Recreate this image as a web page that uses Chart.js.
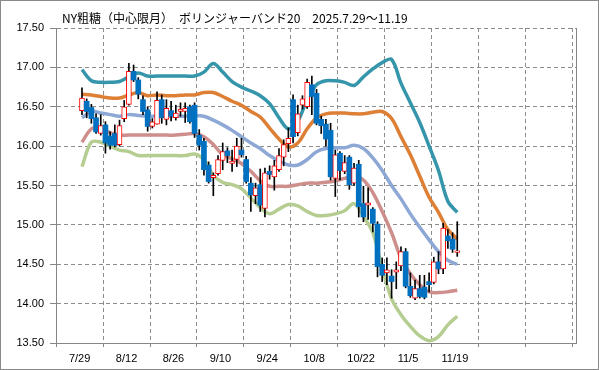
<!DOCTYPE html>
<html><head><meta charset="utf-8">
<script src="https://cdn.jsdelivr.net/npm/chart.js@4.4.1/dist/chart.umd.min.js"></script>
<style>html,body{margin:0;padding:0;background:#fff}canvas{display:block}</style>
</head><body>
<canvas id="c" width="599" height="370"></canvas>
<script>
const titleText = 'NY粗糖（中心限月）　ボリンジャーバンド20　2025.7.29～11.19';
const dates = ['7/29','7/30','7/31','8/1','8/4','8/5','8/6','8/7','8/8','8/11',
 '8/12','8/13','8/14','8/15','8/18','8/19','8/20','8/21','8/22','8/25',
 '8/26','8/27','8/28','8/29','9/2','9/3','9/4','9/5','9/8','9/9',
 '9/10','9/11','9/12','9/15','9/16','9/17','9/18','9/19','9/22','9/23',
 '9/24','9/25','9/26','9/29','9/30','10/1','10/2','10/3','10/6','10/7',
 '10/8','10/9','10/10','10/13','10/14','10/15','10/16','10/17','10/20','10/21',
 '10/22','10/23','10/24','10/27','10/28','10/29','10/30','10/31','11/3','11/4',
 '11/5','11/6','11/7','11/10','11/11','11/12','11/13','11/14','11/17','11/18',
 '11/19'];
const openP = [16.45,16.57,16.49,16.36,16.16,16.27,16.13,16.16,16.02,16.35,
 16.53,16.95,16.84,16.59,16.46,16.25,16.28,16.59,16.34,16.45,
 16.36,16.44,16.44,16.50,16.52,16.14,16.06,15.76,15.60,15.65,
 15.82,15.94,15.78,15.83,15.95,15.83,15.53,15.37,15.51,15.21,
 15.68,15.61,15.70,15.86,16.03,16.59,16.17,16.52,16.50,16.78,
 16.67,16.34,16.28,16.20,15.59,15.91,15.68,15.86,15.53,15.77,
 15.27,15.25,15.20,15.01,14.50,14.39,14.35,14.40,14.48,14.66,
 14.22,14.07,14.19,14.21,14.28,14.27,14.53,14.44,14.86,14.82,
 14.65];
const closeP = [16.61,16.44,16.35,16.18,16.26,16.04,16.01,16.01,16.26,16.50,
 16.95,16.84,16.66,16.44,16.25,16.31,16.58,16.36,16.48,16.38,
 16.42,16.47,16.48,16.31,16.16,16.01,15.70,15.55,15.63,15.83,
 15.93,15.88,15.81,16.00,15.89,15.55,15.38,15.47,15.25,15.66,
 15.64,15.75,15.88,16.02,16.10,16.12,16.41,16.60,16.81,16.63,
 16.29,16.26,16.09,15.61,15.89,15.69,15.79,15.51,15.72,15.23,
 15.10,15.28,15.02,14.47,14.36,14.43,14.28,14.43,14.66,14.22,
 14.10,14.19,14.09,14.08,14.24,14.53,14.44,14.96,14.80,14.69,
 14.67];
const highP = [16.74,16.60,16.53,16.41,16.40,16.31,16.18,16.27,16.33,16.58,
 17.05,17.03,16.87,16.64,16.50,16.35,16.69,16.65,16.59,16.57,
 16.52,16.55,16.55,16.52,16.55,16.21,16.10,15.80,15.66,15.88,
 16.04,15.98,15.95,16.10,16.10,15.87,15.60,15.53,15.71,15.72,
 15.75,15.82,15.97,16.08,16.23,16.65,16.52,16.64,16.85,16.89,
 16.72,16.38,16.34,16.29,15.95,15.93,15.88,15.88,15.78,15.82,
 15.49,15.47,15.22,15.04,14.58,14.58,14.43,14.53,14.72,14.70,
 14.39,14.30,14.36,14.36,14.39,14.59,14.66,15.02,14.94,14.90,
 15.04];
const lowP = [16.40,16.36,16.29,16.16,16.14,15.91,15.96,15.99,16.00,16.31,
 16.52,16.82,16.60,16.40,16.19,16.23,16.28,16.29,16.27,16.32,
 16.33,16.38,16.30,16.29,16.11,15.95,15.63,15.53,15.37,15.63,
 15.70,15.79,15.68,15.74,15.86,15.53,15.17,15.27,15.17,15.10,
 15.58,15.44,15.68,15.75,15.93,16.04,16.13,16.47,16.48,16.40,
 16.27,16.16,16.00,15.57,15.36,15.57,15.65,15.45,15.50,15.10,
 15.04,15.07,14.91,14.34,14.28,14.24,14.07,14.19,14.42,14.20,
 14.08,14.05,14.07,14.06,14.15,14.25,14.38,14.38,14.70,14.65,
 14.60];
// Bollinger band values read every 2nd trading day
const bandEvery = 2;
const upper2 = [16.97,16.83,16.81,16.81,16.82,16.88,16.93,16.89,16.89,16.89,
 16.89,16.89,16.89,16.94,17.05,16.94,16.82,16.75,16.70,16.64,
 16.54,16.36,16.22,16.32,16.59,16.78,16.83,16.83,16.81,16.77,
 16.88,16.98,17.06,17.10,16.80,16.55,16.30,16.00,15.69,15.30,
 15.16];
const upper1 = [16.66,16.65,16.63,16.61,16.61,16.65,16.68,16.64,16.65,16.64,
 16.64,16.65,16.65,16.68,16.68,16.63,16.57,16.52,16.44,16.37,
 16.23,16.09,15.99,16.04,16.22,16.36,16.41,16.42,16.42,16.41,
 16.41,16.43,16.44,16.35,16.12,15.89,15.62,15.35,15.16,14.94,
 14.82];
const middle = [16.36,16.44,16.42,16.40,16.38,16.40,16.39,16.38,16.38,16.38,
 16.38,16.38,16.39,16.38,16.33,16.27,16.20,16.12,16.04,15.97,
 15.88,15.81,15.76,15.76,15.83,15.93,15.97,15.98,15.98,16.01,
 15.97,15.85,15.69,15.50,15.33,15.14,14.97,14.81,14.66,14.55,
 14.50];
const lower1 = [16.05,16.22,16.23,16.17,16.14,16.14,16.14,16.14,16.14,16.14,
 16.14,16.15,16.16,16.12,16.02,15.89,15.84,15.78,15.68,15.56,
 15.49,15.49,15.49,15.51,15.53,15.53,15.54,15.56,15.59,15.62,
 15.57,15.41,15.17,14.90,14.58,14.38,14.24,14.15,14.14,14.15,
 14.17];
const lower2 = [15.74,16.05,16.05,16.00,15.95,15.93,15.88,15.88,15.88,15.88,
 15.88,15.88,15.90,15.83,15.63,15.54,15.51,15.46,15.34,15.22,
 15.14,15.20,15.26,15.24,15.17,15.12,15.12,15.14,15.18,15.27,
 15.11,14.90,14.45,14.06,13.86,13.71,13.59,13.53,13.58,13.73,
 13.84];
const yTicks = [13.5,14.0,14.5,15.0,15.5,16.0,16.5,17.0,17.5];
const xTicks = [0,10,20,30,40,50,60,70,80,90,100];

const UP_BORDER = '#FF0000', DOWN_FILL = '#0070C0';
const isUp = i => closeP[i] >= openP[i];
const bandLine = (arr, color) => ({
  type: 'line',
  data: arr.map((v, k) => ({x: k * bandEvery + 0.5, y: v})),
  borderColor: color, borderWidth: 3.5, pointRadius: 0, tension: 0.35,
  fill: false, order: 10
});

const framePlugin = {
  id: 'frame',
  afterDraw(chart) {
    const {ctx, chartArea: a} = chart;
    ctx.save();
    ctx.strokeStyle = '#868686'; ctx.lineWidth = 1;
    ctx.beginPath();
    const rx = Math.round(a.right) + 0.5;
    ctx.moveTo(rx, a.top); ctx.lineTo(rx, a.bottom); ctx.stroke();
    ctx.strokeStyle = '#8a8a8a';
    ctx.strokeRect(0.5, 0.5, chart.width - 1, chart.height - 1);
    ctx.fillStyle = '#000';
    ctx.font = '12px "Noto Sans CJK JP"';
    ctx.textBaseline = 'middle';
    ctx.fillText(titleText, 62, 18);
    ctx.restore();
  }
};

new Chart(document.getElementById('c'), {
  type: 'bar',
  data: {
    datasets: [
      {
        type: 'bar', order: 1, grouped: false,
        data: dates.map((d, i) => ({x: i + 0.5, y: [openP[i], closeP[i]]})),
        backgroundColor: dates.map((d, i) => isUp(i) ? '#FFFFFF' : DOWN_FILL),
        borderColor: dates.map((d, i) => isUp(i) ? UP_BORDER : DOWN_FILL),
        borderWidth: dates.map((d, i) => isUp(i) ? 1 : 0),
        borderSkipped: false, barThickness: 5
      },
      {
        type: 'bar', order: 2, grouped: false,
        data: dates.map((d, i) => ({x: i + 0.5, y: [lowP[i], highP[i]]})),
        backgroundColor: '#000000', borderWidth: 0, barThickness: 1
      },
      bandLine(upper2, '#3596AB'),
      bandLine(upper1, '#DD7F35'),
      bandLine(middle, '#8EA8D6'),
      bandLine(lower1, '#CE8E8C'),
      bandLine(lower2, '#B6CD92')
    ]
  },
  options: {
    responsive: false, animation: false, events: [],
    layout: {padding: {top: 28, right: 23, bottom: 0, left: 0}},
    plugins: {legend: {display: false}, tooltip: {enabled: false}, title: {display: false}},
    scales: {
      x: {
        type: 'linear', min: 0, max: 100.775,
        afterBuildTicks: s => { s.ticks = xTicks.map(v => ({value: v})); },
        afterFit: s => { s.height = 27; },
        ticks: {
          autoSkip: false, maxRotation: 0, minRotation: 0, padding: 5,
          color: '#000', font: {family: '"Liberation Sans", Arial, sans-serif', size: 11},
          callback: v => dates[v] !== undefined ? dates[v] : ''
        },
        grid: {color: '#8c8c8c', tickLength: 4, tickColor: '#868686'},
        border: {color: '#868686', dash: [4, 3]}
      },
      y: {
        min: 13.5, max: 17.5,
        afterBuildTicks: s => { s.ticks = yTicks.map(v => ({value: v})); },
        afterFit: s => { s.width = 56; },
        ticks: {
          padding: 6, color: '#000',
          font: {family: '"Liberation Sans", Arial, sans-serif', size: 11},
          callback: v => Number(v).toFixed(2)
        },
        grid: {color: '#8c8c8c', tickLength: 6, tickColor: '#868686'},
        border: {color: '#868686', dash: [4, 3]}
      }
    }
  },
  plugins: [framePlugin]
});
</script>
</body></html>
